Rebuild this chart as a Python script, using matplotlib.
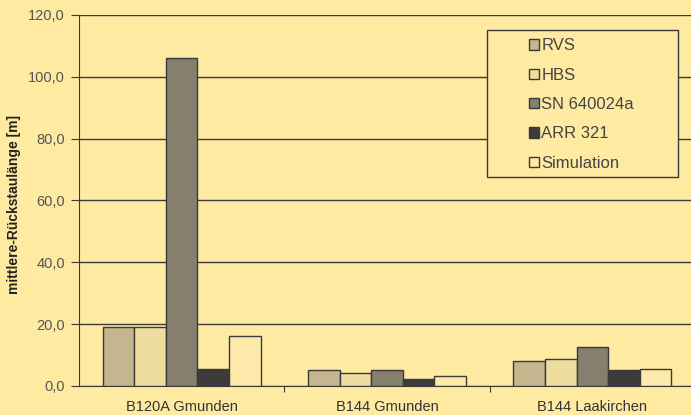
import numpy as np
import matplotlib.pyplot as plt
from matplotlib.patches import Rectangle

plt.rcParams["font.family"] = ["Liberation Sans", "DejaVu Sans"]

categories = ["B120A Gmunden", "B144 Gmunden", "B144 Laakirchen"]
series = ["RVS", "HBS", "SN 640024a", "ARR 321", "Simulation"]
rvs = [19.2, 5.2, 8.2]
hbs = [19.2, 4.1, 8.7]
sn = [106.0, 5.2, 12.5]
arr = [5.4, 2.4, 5.2]
sim = [16.3, 3.1, 5.6]
values = [rvs, hbs, sn, arr, sim]
colors = ["#c4b68e", "#efdc9f", "#85806e", "#3c3c3a", "#fde9a9"]
yticks = [0, 20, 40, 60, 80, 100, 120]

bg = "#ffeaa2"
fig = plt.figure(figsize=(6.91, 4.15), dpi=100, facecolor=bg)
ax = fig.add_axes([0.1143, 0.0699, 0.8915, 0.894])
ax.set_facecolor(bg)

x = np.arange(len(categories))
w = 1 / 6.5
for i, (name, vals, c) in enumerate(zip(series, values, colors)):
    ax.bar(x + (i - 2) * w, vals, width=w, color=c, edgecolor="#3a3a3a",
           linewidth=1.0, label=name, zorder=3)

ax.set_xlim(-0.5, 2.5)
ax.set_ylim(0, 120)
ax.set_yticks(yticks)
ax.set_yticklabels([f"{t:.1f}".replace(".", ",") for t in yticks],
                   fontsize=10.5, color="#555555")
ax.yaxis.grid(True, color="#3a3a3a", linewidth=1.0, zorder=0)
ax.set_axisbelow(True)

ax.set_xticks([0.5, 1.5])
ax.set_xticklabels([])
ax.tick_params(axis="x", length=4, direction="out", color="#3a3a3a")
ax.tick_params(axis="y", length=6, direction="out", color="#3a3a3a", pad=4)
for pos, cat in zip(x, categories):
    ax.text(pos, -6.9, cat, ha="center", va="center", fontsize=10.5,
            color="#333333", clip_on=False)

for s in ["top", "right"]:
    ax.spines[s].set_visible(False)
ax.spines["left"].set_color("#3a3a3a")
ax.spines["bottom"].set_color("#3a3a3a")

ax.set_ylabel("mittlere-Rückstaulänge [m]", fontsize=10, fontweight="bold",
              color="#222222")
ax.yaxis.set_label_coords(-0.094, 0.49)

# legend box drawn separately (wide left padding like the original)
ax.add_patch(Rectangle((0.662, 0.563), 0.310, 0.397, transform=ax.transAxes,
                       facecolor=bg, edgecolor="#3a3a3a", linewidth=1.0,
                       zorder=5, clip_on=False))
leg = ax.legend(loc="upper left", bbox_to_anchor=(0.7305, 0.937),
                fontsize=12, frameon=False,
                handlelength=0.6, handleheight=0.6, handletextpad=0.15,
                labelspacing=0.86, borderpad=0, borderaxespad=0)
leg.set_zorder(6)
for t in leg.get_texts():
    t.set_color("#444444")

fig.savefig("out.png", dpi=100, facecolor=bg)
